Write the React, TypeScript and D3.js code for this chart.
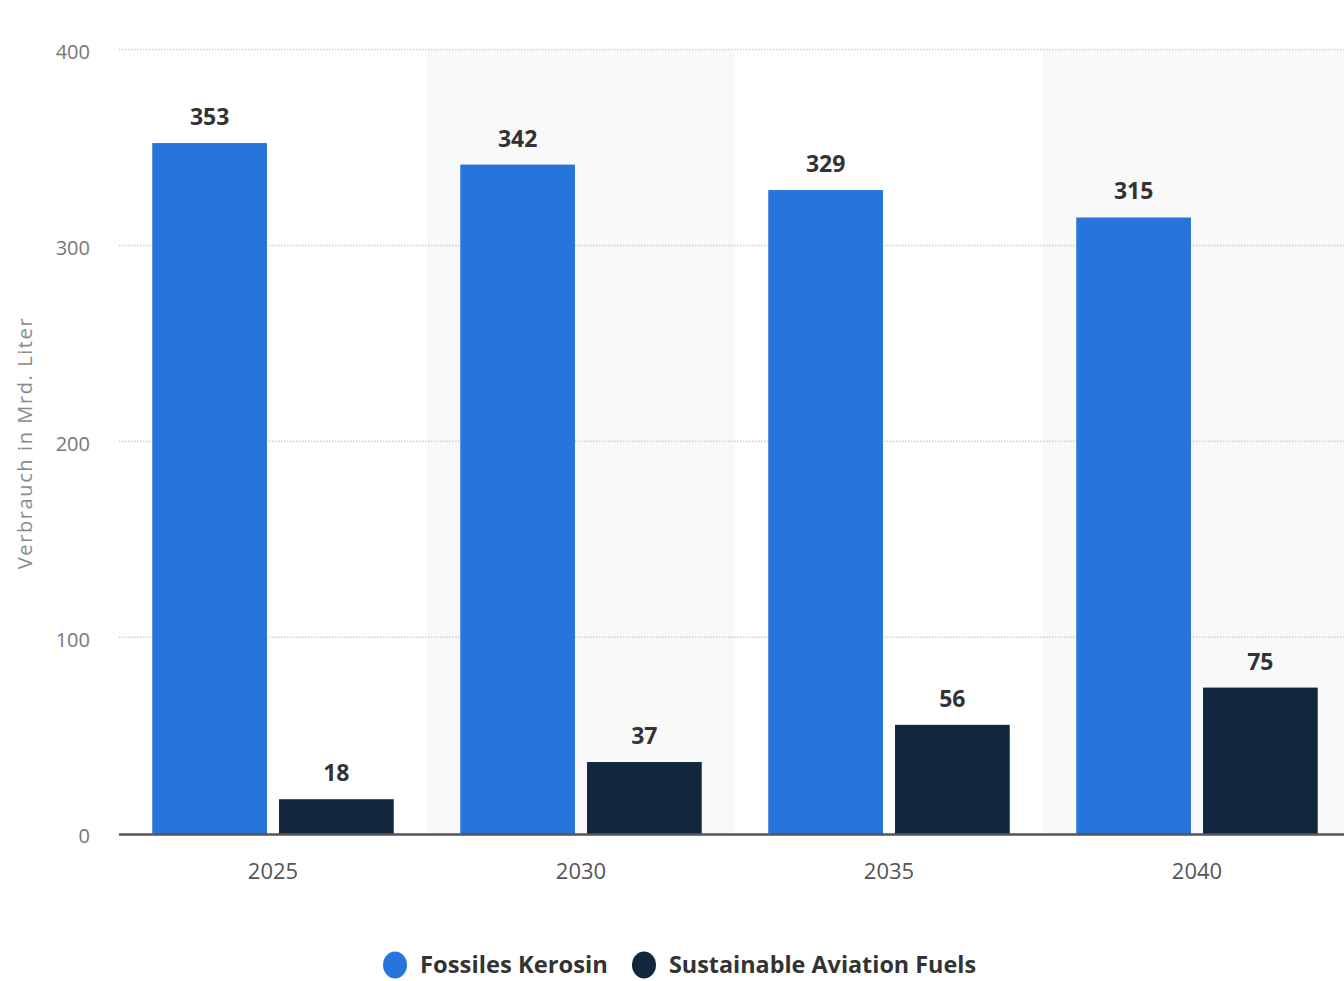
import React from "react";
import * as d3 from "d3";

const categories = ["2025", "2030", "2035", "2040"];
const seriesNames = ["Fossiles Kerosin", "Sustainable Aviation Fuels"];
const fossil = [353, 342, 329, 315];
const saf = [18, 37, 56, 75];
const yTicks = [0, 100, 200, 300, 400];
const colors = ["#2775dc", "#12263d"];

const W = 1344;
const H = 981;
const left = 119;
const right = 1351;
const top = 51;
const bottom = 834.5;

const regular = "'Open Sans', 'DejaVu Sans', sans-serif";

export default function App() {
  const x = d3.scaleBand<string>().domain(categories).range([left, right]).paddingInner(0).paddingOuter(0);
  const bw = x.bandwidth();
  const x1 = d3.scaleBand<number>().domain([0, 1]).range([bw * 0.108, bw * 0.892]).paddingInner(0.095).paddingOuter(0);
  const y = d3.scaleLinear().domain([0, 400]).range([bottom, top]);
  const series = [fossil, saf];
  const legendX = [395, 644];
  const legendLen = [188, 307];

  return (
    <svg width={W} height={H} style={{ position: "absolute", left: 0, top: 0, background: "#fff" }}>
      {categories.map((c, i) =>
        i % 2 === 1 ? (
          <rect key={"bg" + c} x={x(c)} y={top - 1.5} width={bw} height={bottom - top + 1.5} fill="#f9f9f9" />
        ) : null
      )}
      {yTicks.filter((t) => t > 0).map((t) => (
        <line key={"g" + t} x1={left} x2={W} y1={y(t) - 1.5} y2={y(t) - 1.5} stroke="#cfcfcf" strokeWidth={1.5} strokeDasharray="1.5 1.5" />
      ))}
      {yTicks.map((t) => (
        <text key={"yt" + t} x={90} y={y(t) + 1} dy="0.35em" textAnchor="end" fontFamily={regular} fontSize={20} fill="#777">
          {t}
        </text>
      ))}
      <text
        transform={`translate(32,443) rotate(-90)`}
        textAnchor="middle"
        fontFamily={regular}
        fontSize={20}
        letterSpacing={1.6}
        fill="#8a8a8a"
      >
        Verbrauch in Mrd. Liter
      </text>
      {categories.map((c, i) =>
        series.map((s, k) => {
          const bx = (x(c) as number) + (x1(k) as number);
          return (
            <g key={c + k}>
              <rect x={bx} y={y(s[i])} width={x1.bandwidth()} height={bottom - y(s[i])} fill={colors[k]} />
              <text
                x={bx + x1.bandwidth() / 2}
                y={y(s[i]) - 18}
                textAnchor="middle"
                fontFamily={regular}
                fontWeight="bold"
                fontSize={23}
                fill="#333"
              >
                {s[i]}
              </text>
            </g>
          );
        })
      )}
      <line x1={left} x2={W} y1={bottom} y2={bottom} stroke="#555" strokeWidth={2.5} />
      {categories.map((c) => (
        <text
          key={"xl" + c}
          x={(x(c) as number) + bw / 2}
          y={879}
          textAnchor="middle"
          fontFamily={regular}
          fontSize={22}
          fill="#555"
        >
          {c}
        </text>
      ))}
      {seriesNames.map((n, k) => (
        <g key={"lg" + k}>
          <ellipse cx={legendX[k]} cy={965} rx={12} ry={13.5} fill={colors[k]} />
          <text
            x={legendX[k] + 25}
            y={964}
            dy="0.36em"
            fontFamily={regular}
            fontWeight="bold"
            fontSize={24}
            textLength={legendLen[k]}
            lengthAdjust="spacingAndGlyphs"
            fill="#333"
          >
            {n}
          </text>
        </g>
      ))}
    </svg>
  );
}
